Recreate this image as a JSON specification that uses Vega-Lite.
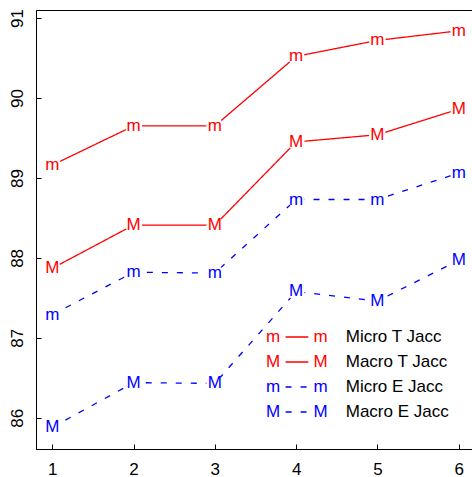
{
  "$schema": "https://vega.github.io/schema/vega-lite/v6.json",
  "width": 439,
  "height": 439,
  "autosize": "none",
  "padding": {"left": 36, "top": 10, "right": 0, "bottom": 28},
  "background": "white",
  "config": {
    "view": {"stroke": "#000", "strokeWidth": 1},
    "font": "Liberation Sans",
    "axis": {"grid": false, "domain": true, "domainColor": "#000", "domainWidth": 1, "ticks": true, "tickSize": -5, "tickColor": "#000", "tickWidth": 1, "labelFont": "Liberation Sans", "labelFontSize": 17, "labelColor": "#000", "title": null}
  },
  "datasets": {
    "scores": [
      {"x": 1, "series": "Micro T Jacc", "value": 89.16},
      {"x": 2, "series": "Micro T Jacc", "value": 89.65},
      {"x": 3, "series": "Micro T Jacc", "value": 89.65},
      {"x": 4, "series": "Micro T Jacc", "value": 90.52},
      {"x": 5, "series": "Micro T Jacc", "value": 90.72},
      {"x": 6, "series": "Micro T Jacc", "value": 90.84},
      {"x": 1, "series": "Macro T Jacc", "value": 87.87},
      {"x": 2, "series": "Macro T Jacc", "value": 88.41},
      {"x": 3, "series": "Macro T Jacc", "value": 88.41},
      {"x": 4, "series": "Macro T Jacc", "value": 89.45},
      {"x": 5, "series": "Macro T Jacc", "value": 89.54},
      {"x": 6, "series": "Macro T Jacc", "value": 89.86},
      {"x": 1, "series": "Micro E Jacc", "value": 87.29},
      {"x": 2, "series": "Micro E Jacc", "value": 87.82},
      {"x": 3, "series": "Micro E Jacc", "value": 87.81},
      {"x": 4, "series": "Micro E Jacc", "value": 88.73},
      {"x": 5, "series": "Micro E Jacc", "value": 88.73},
      {"x": 6, "series": "Micro E Jacc", "value": 89.06},
      {"x": 1, "series": "Macro E Jacc", "value": 85.88},
      {"x": 2, "series": "Macro E Jacc", "value": 86.44},
      {"x": 3, "series": "Macro E Jacc", "value": 86.43},
      {"x": 4, "series": "Macro E Jacc", "value": 87.58},
      {"x": 5, "series": "Macro E Jacc", "value": 87.46},
      {"x": 6, "series": "Macro E Jacc", "value": 87.97}
    ],
    "legend": [
      {"series": "Micro T Jacc"},
      {"series": "Macro T Jacc"},
      {"series": "Micro E Jacc"},
      {"series": "Macro E Jacc"}
    ]
  },
  "layer": [
    {
      "data": {"name": "scores"},
      "transform": [{"calculate": "indexof(datum.series, 'Micro') == 0 ? 'm' : 'M'", "as": "pch"}],
      "encoding": {
        "x": {"field": "x", "type": "quantitative", "scale": {"domain": [0.8, 6.2], "nice": false, "zero": false},
              "axis": {"values": [1, 2, 3, 4, 5, 6], "format": "d", "labelPadding": 17, "labelBaseline": "top", "labelAngle": 0}},
        "y": {"field": "value", "type": "quantitative", "scale": {"domain": [85.61, 91.1], "nice": false, "zero": false},
              "axis": {"values": [86, 87, 88, 89, 90, 91], "format": "d", "labelAngle": -90, "labelAlign": "center", "labelBaseline": "alphabetic", "labelPadding": 19}}
      },
      "layer": [
        {
          "mark": {"type": "line", "strokeWidth": 1.3},
          "encoding": {
            "color": {"field": "series", "type": "nominal", "scale": {"domain": ["Micro T Jacc", "Macro T Jacc", "Micro E Jacc", "Macro E Jacc"], "range": ["#ff0000", "#ff0000", "#0000ff", "#0000ff"]}, "legend": null},
            "strokeDash": {"field": "series", "type": "nominal", "scale": {"domain": ["Micro T Jacc", "Macro T Jacc", "Micro E Jacc", "Macro E Jacc"], "range": [[1, 0], [1, 0], [6, 9], [6, 9]]}, "legend": null},
            "detail": {"field": "series"}
          }
        },
        {
          "mark": {"type": "point", "shape": "circle", "filled": true, "color": "white", "opacity": 1, "size": 289, "strokeWidth": 0},
          "encoding": {}
        },
        {
          "mark": {"type": "text", "fontSize": 17, "font": "Liberation Sans", "baseline": "middle", "align": "center"},
          "encoding": {
            "text": {"field": "pch"},
            "color": {"field": "series", "type": "nominal", "legend": null}
          }
        }
      ]
    },
    {
      "data": {"name": "legend"},
      "transform": [
        {"calculate": "indexof(datum.series, 'Micro') == 0 ? 'm' : 'M'", "as": "pch"},
        {"window": [{"op": "row_number", "as": "rank"}]}
      ],
      "encoding": {
        "y": {"field": "rank", "type": "quantitative", "scale": {"domain": [-12.08, 5.48], "nice": false, "zero": false, "reverse": true}, "axis": null}
      },
      "layer": [
        {
          "mark": {"type": "text", "fontSize": 17, "font": "Liberation Sans", "baseline": "middle", "align": "center"},
          "encoding": {
            "x": {"datum": 3.715, "type": "quantitative"},
            "text": {"field": "pch"},
            "color": {"field": "series", "type": "nominal", "legend": null}
          }
        },
        {
          "mark": {"type": "text", "fontSize": 17, "font": "Liberation Sans", "baseline": "middle", "align": "center"},
          "encoding": {
            "x": {"datum": 4.302, "type": "quantitative"},
            "text": {"field": "pch"},
            "color": {"field": "series", "type": "nominal", "legend": null}
          }
        },
        {
          "mark": {"type": "rule", "strokeWidth": 1.3},
          "encoding": {
            "x": {"datum": 3.87, "type": "quantitative"},
            "x2": {"datum": 4.15},
            "color": {"field": "series", "type": "nominal", "legend": null},
            "strokeDash": {"field": "series", "type": "nominal", "legend": null}
          }
        },
        {
          "mark": {"type": "text", "fontSize": 17, "font": "Liberation Sans", "baseline": "middle", "align": "left", "color": "#000"},
          "encoding": {
            "x": {"datum": 4.61, "type": "quantitative"},
            "text": {"field": "series"}
          }
        }
      ]
    }
  ],
  "resolve": {"scale": {"y": "independent"}}
}
